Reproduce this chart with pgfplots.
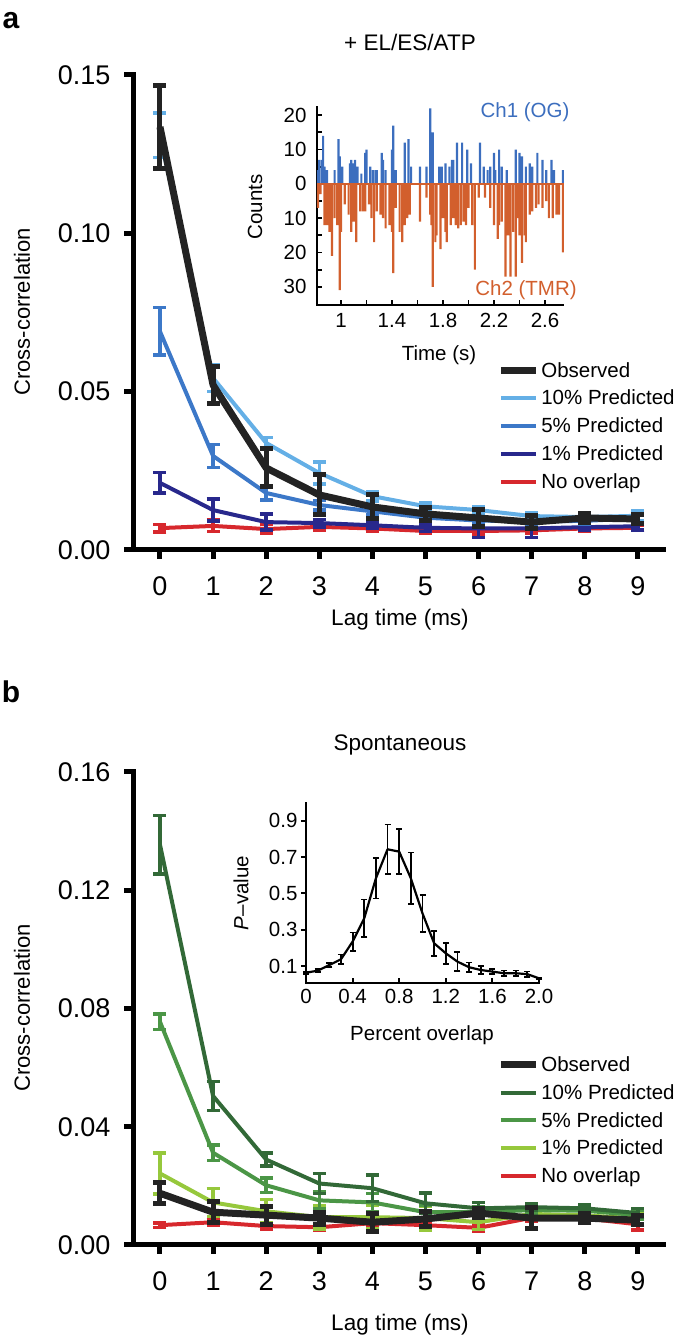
\documentclass[border=0pt]{standalone}
\usepackage{fontspec}
\setmainfont{Liberation Sans}
\usepackage{pgfplots}
\pgfplotsset{compat=1.18}
\definecolor{obs}{RGB}{35,35,35}
\definecolor{bTen}{RGB}{100,175,230}
\definecolor{bFive}{RGB}{60,120,200}
\definecolor{bOne}{RGB}{40,40,140}
\definecolor{noov}{RGB}{215,40,45}
\definecolor{gTen}{RGB}{50,105,55}
\definecolor{gFive}{RGB}{75,150,70}
\definecolor{gOne}{RGB}{150,200,60}
\definecolor{chone}{RGB}{60,110,190}
\definecolor{chtwo}{RGB}{210,95,45}
\pgfplotsset{
  mainax/.style={scale only axis, width=530pt, xmin=-0.508, xmax=9.473, ymin=0,
    axis x line*=bottom, axis y line*=left,
    axis line style={line width=5pt, line cap=rect, black},
    tick align=outside, major tick length=9pt, tick style={line width=5pt, black},
    xtick={0,...,9},
    tick label style={font=\fontsize{27}{32}\selectfont},
    xticklabel style={yshift=-14pt},
    /pgf/number format/assume math mode=true,
    yticklabel style={xshift=-10pt, /pgf/number format/.cd, fixed, fixed zerofill, precision=2},
    clip=false, reverse legend, legend cell align=left,
    legend style={anchor=north west, draw=none, fill=none,
      font=\fontsize{20.5}{24}\selectfont, row sep=7.5pt, inner sep=0pt},
    legend image code/.code={\draw[#1] (0pt,0pt) -- (35pt,0pt);}},
  ser/.style n args={3}{draw=#1, line width=#2, mark=none, line join=round,
    error bars/y dir=both, error bars/y explicit,
    error bars/error bar style={line width=#3, draw=#1},
    error bars/error mark options={rotate=90, mark size=6.5pt, line width=#3, draw=#1}},
}
\begin{document}
\begin{tikzpicture}
\useasboundingbox (0pt,0pt) rectangle (685pt,1343pt);
% ---------------- panel a ----------------
\begin{axis}[mainax, at={(133pt,793pt)}, anchor=south west, height=475pt, ymax=0.15,
  ytick={0,0.05,0.10,0.15}, legend style={at={(0.687,0.400)}}]
\addplot[ser={noov}{4pt}{3.5pt}] coordinates {
 (0,0.0069)+-(0,0.0012) (1,0.0076)+-(0,0.0018) (2,0.0066)+-(0,0.0014) (3,0.0073)+-(0,0.0010) (4,0.0068)+-(0,0.0008)
 (5,0.0060)+-(0,0.0008) (6,0.0060)+-(0,0.0010) (7,0.0062)+-(0,0.0008) (8,0.0068)+-(0,0.0008) (9,0.0070)+-(0,0.0008)};
\addlegendentry{No overlap}
\addplot[ser={bOne}{4pt}{3.5pt}] coordinates {
 (0,0.0212)+-(0,0.0032) (1,0.0126)+-(0,0.0035) (2,0.0088)+-(0,0.0025) (3,0.0085)+-(0,0.0012) (4,0.0078)+-(0,0.0010)
 (5,0.0070)+-(0,0.0012) (6,0.0068)+-(0,0.0028) (7,0.0068)+-(0,0.0028) (8,0.0072)+-(0,0.0010) (9,0.0075)+-(0,0.0012)};
\addlegendentry{1\% Predicted}
\addplot[ser={bFive}{4pt}{3.5pt}] coordinates {
 (0,0.0690)+-(0,0.0075) (1,0.0297)+-(0,0.0036) (2,0.0180)+-(0,0.0022) (3,0.0142)+-(0,0.0015) (4,0.0122)+-(0,0.0012)
 (5,0.0102)+-(0,0.0010) (6,0.0093)+-(0,0.0010) (7,0.0090)+-(0,0.0010) (8,0.0092)+-(0,0.0010) (9,0.0100)+-(0,0.0012)};
\addlegendentry{5\% Predicted}
\addplot[ser={bTen}{4pt}{3.5pt}] coordinates {
 (0,0.1310)+-(0,0.0070) (1,0.0543)+-(0,0.0042) (2,0.0338)+-(0,0.0017) (3,0.0243)+-(0,0.0035) (4,0.0170)+-(0,0.0015)
 (5,0.0138)+-(0,0.0010) (6,0.0126)+-(0,0.0010) (7,0.0107)+-(0,0.0010) (8,0.0104)+-(0,0.0010) (9,0.0108)+-(0,0.0015)};
\addlegendentry{10\% Predicted}
\addplot[ser={obs}{7pt}{5pt}] coordinates {
 (0,0.1336)+-(0,0.0130) (1,0.0521)+-(0,0.0057) (2,0.0259)+-(0,0.0060) (3,0.0174)+-(0,0.0063) (4,0.0136)+-(0,0.0038)
 (5,0.0114)+-(0,0.0020) (6,0.0101)+-(0,0.0028) (7,0.0088)+-(0,0.0020) (8,0.0101)+-(0,0.0015) (9,0.0098)+-(0,0.0015)};
\addlegendentry{Observed}
\end{axis}
% inset a
\begin{axis}[scale only axis, at={(317pt,1038pt)}, anchor=south west, width=246pt, height=198pt,
  xmin=0.812, xmax=2.741, ymin=-35.3, ymax=22.4,
  axis x line*=bottom, axis y line*=left,
  axis line style={line width=2pt, line cap=rect, black},
  tick align=inside, major tick length=5pt, tick style={line width=1.8pt, black},
  xtick={1,1.2,1.4,1.6,1.8,2.0,2.2,2.4,2.6}, xticklabels={1,,1.4,,1.8,,2.2,,2.6},
  ytick={-30,-25,-20,-15,-10,-5,0,5,10,15,20}, yticklabels={30,,20,,10,,0,,10,,20},
  tick label style={font=\fontsize{20.5}{24}\selectfont},
  xticklabel style={yshift=-5pt}, yticklabel style={xshift=-7pt}, clip=false]
\addplot[ybar, bar shift=0pt, bar width=2.2pt, fill=chone, draw=none] coordinates {
 (0.82,4)(0.83,7)(0.85,7)(0.86,14)(0.87,5)(0.89,4)(0.95,4)(0.98,13)(0.99,8)(1.01,5)(1.07,6)(1.08,7)(1.10,6)(1.11,7)(1.13,5)
 (1.16,3)(1.19,9)(1.20,10)(1.23,5)(1.25,4)(1.27,4)(1.28,4)(1.32,9)(1.33,7)(1.35,4)(1.40,10)(1.41,17)(1.43,4)(1.50,12)(1.53,13)
 (1.55,5)(1.62,5)(1.67,5)(1.70,22)(1.72,15)(1.77,5)(1.79,5)(1.82,6)(1.85,5)(1.87,7)(1.88,7)(1.91,12)(1.95,12)(1.99,10)
 (2.02,6)(2.09,12)(2.12,5)(2.15,4)(2.17,5)(2.20,9)(2.21,4)(2.24,10)(2.26,5)(2.30,4)(2.37,10)(2.40,9)(2.42,8)(2.45,5)
 (2.48,6)(2.50,5)(2.54,9)(2.58,7)(2.61,4)(2.65,7)(2.67,4)(2.74,4)};
\addplot[ybar, bar shift=0pt, bar width=2.2pt, fill=chtwo, draw=none] coordinates {
 (0.82,-7)(0.84,-3)(0.87,-12)(0.89,-12)(0.91,-14)(0.93,-21)(0.95,-10)(0.97,-12)(0.99,-31)(1.00,-14)(1.03,-6)(1.06,-9)
 (1.08,-14)(1.10,-11)(1.12,-17)(1.15,-8)(1.17,-8)(1.19,-8)(1.22,-6)(1.24,-10)(1.26,-17)(1.28,-8)(1.31,-9)(1.33,-10)
 (1.35,-13)(1.38,-12)(1.40,-14)(1.41,-26)(1.43,-7)(1.46,-14)(1.48,-17)(1.50,-12)(1.52,-10)(1.54,-9)(1.62,-11)(1.67,-4)
 (1.70,-9)(1.71,-12)(1.72,-30)(1.74,-17)(1.75,-15)(1.78,-19)(1.80,-10)(1.82,-14)(1.83,-17)(1.86,-12)(1.88,-10)(1.90,-12)
 (1.92,-13)(1.94,-12)(1.96,-11)(1.98,-12)(2.00,-7)(2.03,-12)(2.05,-25)(2.08,-4)(2.13,-4)(2.17,-7)(2.20,-12)(2.23,-16)
 (2.24,-12)(2.26,-11)(2.29,-27)(2.31,-15)(2.33,-27)(2.35,-14)(2.37,-27)(2.39,-10)(2.40,-15)(2.42,-23)(2.44,-15)(2.45,-17)
 (2.48,-9)(2.50,-8)(2.53,-7)(2.55,-6)(2.58,-7)(2.61,-5)(2.63,-10)(2.66,-10)(2.69,-9)(2.71,-9)(2.74,-20)};
\addplot[draw=chtwo, line width=1.5pt, mark=none] coordinates {(0.815,0) (2.745,0)};
\end{axis}
\node[font=\bfseries\fontsize{30}{36}\selectfont] at (11pt,1322pt) {a};
\node[font=\fontsize{22.5}{27}\selectfont] at (410pt,1301pt) {+ EL/ES/ATP};
\node[rotate=90, font=\fontsize{22}{26}\selectfont] at (22pt,1031pt) {Cross-correlation};
\node[font=\fontsize{22.5}{27}\selectfont] at (400pt,723pt) {Lag time (ms)};
\node[rotate=90, font=\fontsize{20.5}{24}\selectfont] at (255pt,1136pt) {Counts};
\node[font=\fontsize{20.5}{24}\selectfont] at (439pt,988pt) {Time (s)};
\node[font=\fontsize{20.5}{24}\selectfont, text=chone] at (525pt,1231pt) {Ch1 (OG)};
\node[font=\fontsize{20.5}{24}\selectfont, text=chtwo] at (526pt,1053pt) {Ch2 (TMR)};
% ---------------- panel b ----------------
\begin{axis}[mainax, at={(133pt,98pt)}, anchor=south west, height=473pt, ymax=0.16,
  ytick={0,0.04,0.08,0.12,0.16}, legend style={at={(0.687,0.403)}}]
\addplot[ser={noov}{4pt}{3.5pt}] coordinates {
 (0,0.0067)+-(0,0.0008) (1,0.0077)+-(0,0.0010) (2,0.0064)+-(0,0.0010) (3,0.0060)+-(0,0.0010) (4,0.0074)+-(0,0.0010)
 (5,0.0067)+-(0,0.0010) (6,0.0058)+-(0,0.0010) (7,0.0092)+-(0,0.0012) (8,0.0090)+-(0,0.0012) (9,0.0070)+-(0,0.0020)};
\addlegendentry{No overlap}
\addplot[ser={gOne}{4pt}{3.5pt}] coordinates {
 (0,0.0242)+-(0,0.0070) (1,0.0144)+-(0,0.0047) (2,0.0114)+-(0,0.0040) (3,0.0094)+-(0,0.0040) (4,0.0094)+-(0,0.0040)
 (5,0.0091)+-(0,0.0040) (6,0.0077)+-(0,0.0025) (7,0.0105)+-(0,0.0015) (8,0.0100)+-(0,0.0015) (9,0.0090)+-(0,0.0020)};
\addlegendentry{1\% Predicted}
\addplot[ser={gFive}{4pt}{3.5pt}] coordinates {
 (0,0.0755)+-(0,0.0026) (1,0.0312)+-(0,0.0027) (2,0.0202)+-(0,0.0025) (3,0.0151)+-(0,0.0030) (4,0.0144)+-(0,0.0030)
 (5,0.0111)+-(0,0.0025) (6,0.0111)+-(0,0.0020) (7,0.0118)+-(0,0.0012) (8,0.0116)+-(0,0.0012) (9,0.0101)+-(0,0.0015)};
\addlegendentry{5\% Predicted}
\addplot[ser={gTen}{4pt}{3.5pt}] coordinates {
 (0,0.1354)+-(0,0.0099) (1,0.0504)+-(0,0.0049) (2,0.0289)+-(0,0.0022) (3,0.0208)+-(0,0.0034) (4,0.0192)+-(0,0.0045)
 (5,0.0141)+-(0,0.0035) (6,0.0124)+-(0,0.0020) (7,0.0128)+-(0,0.0012) (8,0.0124)+-(0,0.0012) (9,0.0108)+-(0,0.0015)};
\addlegendentry{10\% Predicted}
\addplot[ser={obs}{7pt}{5pt}] coordinates {
 (0,0.0175)+-(0,0.0035) (1,0.0111)+-(0,0.0035) (2,0.0101)+-(0,0.0030) (3,0.0091)+-(0,0.0020) (4,0.0077)+-(0,0.0030)
 (5,0.0088)+-(0,0.0025) (6,0.0108)+-(0,0.0015) (7,0.0091)+-(0,0.0035) (8,0.0091)+-(0,0.0015) (9,0.0084)+-(0,0.0015)};
\addlegendentry{Observed}
\end{axis}
% inset b
\begin{axis}[scale only axis, at={(306pt,360pt)}, anchor=south west, width=233pt, height=180pt,
  xmin=0, xmax=2.0, ymin=0.0063, ymax=0.998,
  axis x line*=bottom, axis y line*=left,
  axis line style={line width=2.5pt, line cap=rect, black},
  xtick align=inside, ytick align=outside, major tick length=5pt, tick style={line width=2pt, black},
  xtick={0,0.4,0.8,1.2,1.6,2.0}, xticklabels={0,0.4,0.8,1.2,1.6,2.0},
  ytick={0.1,0.3,0.5,0.7,0.9}, yticklabels={0.1,0.3,0.5,0.7,0.9},
  tick label style={font=\fontsize{20.5}{24}\selectfont}, xticklabel style={yshift=-3pt}, clip=false]
\addplot[draw=black, line width=2.2pt, mark=none, line join=round,
  error bars/y dir=both, error bars/y explicit,
  error bars/error bar style={line width=1.8pt, draw=black},
  error bars/error mark options={rotate=90, mark size=3pt, line width=1.8pt, draw=black}] coordinates {
 (0,0.063)+-(0,0.005) (0.1,0.074)+-(0,0.008) (0.2,0.105)+-(0,0.012) (0.3,0.137)+-(0,0.026) (0.4,0.234)+-(0,0.050)
 (0.5,0.363)+-(0,0.103) (0.6,0.583)+-(0,0.111) (0.7,0.743)+-(0,0.137) (0.8,0.730)+-(0,0.124) (0.9,0.583)+-(0,0.142)
 (1.0,0.390)+-(0,0.101) (1.1,0.225)+-(0,0.069) (1.2,0.170)+-(0,0.057) (1.3,0.124)+-(0,0.053) (1.4,0.093)+-(0,0.026)
 (1.5,0.078)+-(0,0.020) (1.6,0.069)+-(0,0.015) (1.7,0.060)+-(0,0.015) (1.8,0.060)+-(0,0.015) (1.9,0.055)+-(0,0.015)
 (2.0,0.032)+-(0,0.005)};
\end{axis}
\node[font=\bfseries\fontsize{30}{36}\selectfont] at (11pt,651pt) {b};
\node[font=\fontsize{22.5}{27}\selectfont] at (400pt,598pt) {Spontaneous};
\node[rotate=90, font=\fontsize{22}{26}\selectfont] at (22pt,335pt) {Cross-correlation};
\node[font=\fontsize{22.5}{27}\selectfont] at (400pt,18pt) {Lag time (ms)};
\node[rotate=90, font=\fontsize{20.5}{24}\selectfont] at (241pt,450pt) {\textit{P}--value};
\node[font=\fontsize{20.5}{24}\selectfont] at (422pt,308pt) {Percent overlap};
\end{tikzpicture}
\end{document}
